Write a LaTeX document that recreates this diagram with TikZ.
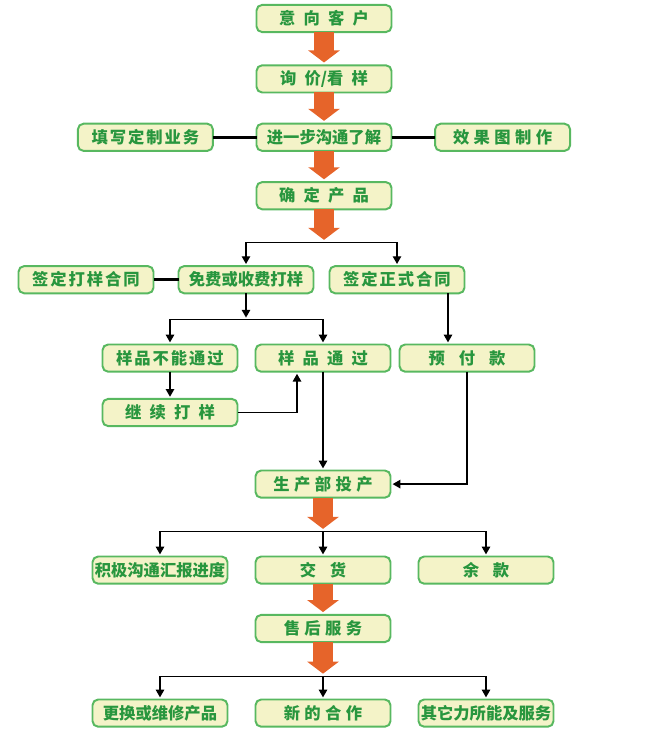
\documentclass[tikz,border=0pt]{standalone}
\usepackage{fontspec}
\setmainfont{Noto Sans CJK SC}
\usepackage{xcolor}
\usepackage{tikz}
\usetikzlibrary{positioning,arrows.meta}

\definecolor{boxfill}{RGB}{244,243,200}
\definecolor{boxline}{RGB}{88,184,96}
\definecolor{textgreen}{RGB}{40,150,62}
\definecolor{arroworange}{RGB}{230,100,42}

% letter gaps
\newcommand{\kgs}{\hspace{0.12em}}
\newcommand{\kgm}{\hspace{0.27em}}
\newcommand{\kgl}{\hspace{0.5em}}
\newcommand{\kgx}{\hspace{0.85em}}

\begin{document}
\begin{tikzpicture}[>={Triangle[width=6pt,length=5.5pt]}, thick,
  box/.style={draw=boxline, line width=1.4pt, fill=boxfill, rounded corners=4pt,
    minimum width=3.375cm, minimum height=0.68cm, inner sep=0pt, outer sep=0pt,
    text=textgreen, font=\bfseries\fontsize{11.6}{13}\selectfont},
  bigarrow/.style={draw=arroworange, line width=0.5cm,
    -{Triangle[width=0.775cm,length=0.3cm]}, shorten >=2pt},
  link/.style={line width=2.2pt},
  arr/.style={line width=1pt, ->, shorten >=1.5pt}]
 \useasboundingbox (0,0) rectangle (16.35,-18.45);
 % main column
 \node[box] (kh) at (8.1,-0.4625) {意\kgl 向\kgl 客\kgl 户};
 \node[box, below=0.83cm of kh] (xj) {询\kgl 价/看\kgl 样};
 \node[box, below=0.78cm of xj] (gt) {进一步沟通了解};
 \node[box, left=1.09cm of gt] (tx) {填\kgs 写\kgs 定\kgs 制\kgs 业\kgs 务};
 \node[box, right=1.09cm of gt] (xg) {效\kgm 果\kgm 图\kgm 制\kgm 作};
 \node[box, below=0.78cm of gt] (qd) {确\kgl 定\kgl 产\kgl 品};
 \coordinate[below=0.835cm of qd] (br1);
 % sample / contract
 \node[box, below=0.585cm of br1, xshift=-1.95cm] (mf) {免费或收费打样};
 \node[box, left=0.625cm of mf] (dy) {签\kgs 定\kgs 打\kgs 样\kgs 合\kgs 同};
 \node[box, right=0.4cm of mf] (zs) {签\kgs 定\kgs 正\kgs 式\kgs 合\kgs 同};
 \coordinate[below=0.66cm of mf] (br2);
 \node[box, below=0.62cm of br2, xshift=-1.9cm] (bn) {样\kgs 品\kgs 不\kgs 能\kgs 通\kgs 过};
 \node[box, right=0.45cm of bn] (tg) {样\kgl 品\kgl 通\kgl 过};
 \node[box, right=0.225cm of tg] (yf) {预\kgx 付\kgx 款};
 \node[box, below=0.68cm of bn] (jx) {继\kgl 续\kgl 打\kgl 样};
 % production and after sales
 \node[box, below=2.47cm of tg] (sc) {生\kgm 产\kgm 部\kgm 投\kgm 产};
 \coordinate[below=0.85cm of sc] (br3);
 \node[box, below=0.62cm of br3] (jh) {交\kgx 货};
 \node[box, left=0.7cm of jh] (jj) {积极沟通汇报进度};
 \node[box, right=0.7cm of jh] (yk) {余\kgx 款};
 \node[box, below=0.78cm of jh] (sh) {售\kgm 后\kgm 服\kgm 务};
 \coordinate[below=0.86cm of sh] (br4);
 \node[box, below=0.575cm of br4] (hz) {新\kgm 的\kgm 合\kgm 作};
 \node[box, left=0.7cm of hz] (gh) {更换或维修产品};
 \node[box, right=0.7cm of hz] (qt) {其它力所能及服务};
 % orange arrows
 \draw[bigarrow] (kh) -- (xj);
 \draw[bigarrow] (xj) -- (gt);
 \draw[bigarrow] (gt) -- (qd);
 \draw[bigarrow] (qd) -- (br1);
 \draw[bigarrow] (sc) -- (br3);
 \draw[bigarrow] (jh) -- (sh);
 \draw[bigarrow] (sh) -- (br4);
 % thick links
 \draw[link] (tx) -- (gt);
 \draw[link] (gt) -- (xg);
 \draw[link] (dy) -- (mf);
 % black arrows
 \draw[arr] (br1) -| (mf);
 \draw[arr] (br1) -| (zs);
 \draw[arr] (mf) -- (br2);
 \draw[arr] (br2) -| (bn);
 \draw[arr] (br2) -| (tg);
 \draw[arr] (bn) -- (jx);
 \coordinate[left=0.65cm of tg.south] (tgl);
 \draw[arr] (jx) -| (tgl);
 \draw[arr] (tg) -- (sc);
 \coordinate[right=1.275cm of zs.south] (zsr);
 \draw[arr] (zsr) -- (zsr |- yf.north);
 \draw[arr] (yf) |- (sc);
 \draw[arr] (br3) -| (jj);
 \draw[arr] (br3) -- (jh);
 \draw[arr] (br3) -| (yk);
 \draw[arr] (br4) -| (gh);
 \draw[arr] (br4) -- (hz);
 \draw[arr] (br4) -| (qt);
\end{tikzpicture}
\end{document}
